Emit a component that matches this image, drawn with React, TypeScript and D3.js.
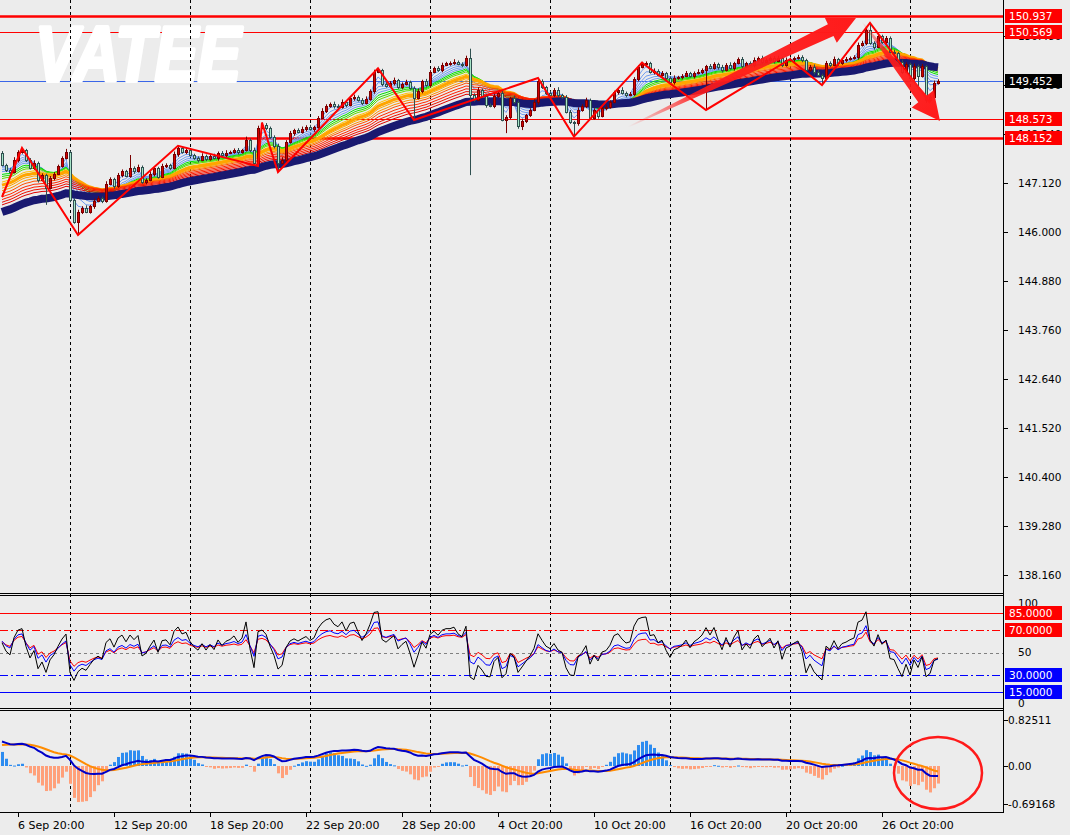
import React from 'react';
import * as d3 from 'd3';

// ---------------- DATA ----------------
const firstOpen = 147.81;
const closes = [
  147.53, 147.42, 147.37, 147.65, 147.83, 147.87, 147.65, 147.46, 147.58, 147.19,
  147.30, 147.01, 147.23, 147.33, 147.51, 147.69, 147.83, 146.73, 146.23, 146.46,
  146.55, 146.46, 146.59, 146.71, 146.78, 146.71, 147.10, 147.21, 147.05, 147.30,
  147.39, 147.28, 147.46, 147.39, 147.49, 147.14, 147.19, 147.33, 147.46, 147.26,
  147.51, 147.53, 147.46, 147.78, 147.92, 147.83, 147.87, 147.76, 147.69, 147.65,
  147.74, 147.67, 147.74, 147.69, 147.81, 147.76, 147.81, 147.83, 147.87, 147.83,
  147.87, 148.10, 147.87, 147.58, 148.38, 148.45, 148.38, 148.17, 147.97, 147.58,
  147.65, 148.06, 148.26, 148.33, 148.29, 148.35, 148.40, 148.35, 148.40, 148.61,
  148.77, 148.88, 148.93, 148.88, 148.86, 148.97, 148.90, 149.06, 149.09, 149.02,
  148.95, 149.04, 149.22, 149.66, 149.70, 149.38, 149.34, 149.41, 149.47, 149.31,
  149.38, 149.43, 149.29, 149.06, 149.22, 149.45, 149.36, 149.66, 149.75, 149.70,
  149.82, 149.86, 149.86, 149.89, 149.84, 149.82, 149.98, 149.13, 149.02, 149.25,
  149.11, 148.90, 148.88, 149.11, 149.18, 148.56, 148.63, 149.06, 148.97, 148.42,
  148.54, 148.67, 148.79, 148.97, 149.45, 149.31, 149.18, 149.13, 149.25, 149.13,
  149.09, 148.74, 148.51, 148.49, 148.79, 148.88, 149.02, 148.61, 148.79, 148.65,
  148.83, 148.86, 148.97, 149.20, 149.25, 149.18, 149.13, 149.15, 149.50, 149.77,
  149.84, 149.86, 149.66, 149.68, 149.59, 149.63, 149.52, 149.43, 149.52, 149.54,
  149.57, 149.63, 149.57, 149.63, 149.66, 149.70, 149.79, 149.75, 149.84, 149.77,
  149.70, 149.82, 149.75, 149.86, 149.95, 149.79, 149.86, 149.82, 149.93, 149.98,
  149.89, 149.93, 149.98, 149.91, 149.98, 149.82, 149.93, 149.95, 149.98, 150.00,
  149.93, 149.70, 149.77, 149.66, 149.59, 149.52, 149.86, 149.82, 149.95, 149.86,
  149.93, 149.95, 149.98, 150.00, 150.27, 150.32, 150.62, 150.32, 150.23, 150.48,
  150.34, 150.43, 150.11, 150.09, 149.89, 149.66, 149.84, 149.52, 149.79, 149.57,
  149.79, 149.02, 149.09, 149.40, 149.452,
];
// wick lengths in hundredths of a yen
const upperWick = [
  4, 3, 5, 6, 4, 5, 3, 4, 6, 3, 4, 3, 5, 4, 3, 4, 7, 3, 4, 5,
  4, 6, 3, 5, 4, 3, 6, 4, 3, 5, 4, 3, 30, 4, 5, 3, 4, 6, 4, 3,
  5, 4, 3, 6, 5, 3, 4, 5, 3, 4, 6, 3, 4, 5, 3, 4, 6, 3, 4, 5,
  3, 8, 4, 6, 5, 5, 4, 3, 4, 5, 6, 4, 5, 3, 4, 6, 4, 5, 3, 4,
  6, 4, 3, 5, 4, 6, 3, 4, 5, 3, 4, 6, 4, 5, 4, 3, 5, 4, 6, 3,
  4, 5, 3, 4, 6, 3, 5, 4, 3, 4, 5, 3, 4, 6, 3, 4, 5, 21, 4, 6,
  3, 5, 4, 6, 3, 5, 4, 3, 6, 4, 5, 3, 4, 6, 5, 4, 3, 5, 4, 6,
  3, 4, 5, 3, 6, 4, 5, 3, 4, 6, 3, 5, 4, 3, 4, 6, 3, 5, 4, 4,
  5, 4, 3, 6, 4, 5, 3, 4, 6, 3, 4, 5, 3, 4, 6, 4, 3, 5, 4, 3,
  5, 4, 6, 3, 4, 5, 3, 4, 6, 3, 5, 4, 3, 4, 5, 3, 6, 4, 3, 5,
  4, 3, 5, 6, 4, 3, 5, 4, 6, 3, 4, 5, 3, 4, 6, 5, 4, 16, 4, 5,
  3, 5, 4, 6, 3, 5, 4, 3, 6, 4, 5, 3, 4, 6, 4,
];
const lowerWick = [
  3, 5, 4, 3, 6, 4, 5, 3, 4, 6, 3, 39, 4, 5, 3, 4, 3, 5, 4, 27,
  5, 3, 4, 6, 3, 5, 4, 3, 6, 4, 5, 3, 4, 6, 3, 4, 5, 3, 6, 4,
  3, 5, 4, 3, 6, 4, 5, 3, 4, 6, 3, 5, 4, 3, 6, 4, 5, 3, 4, 6,
  4, 3, 5, 4, 7, 3, 5, 4, 6, 21, 3, 5, 4, 6, 3, 4, 5, 3, 6, 4,
  3, 5, 4, 6, 3, 4, 5, 3, 6, 4, 5, 3, 4, 6, 3, 5, 4, 3, 6, 4,
  5, 3, 4, 50, 3, 5, 4, 6, 3, 4, 5, 3, 6, 4, 3, 5, 4, 183, 5, 3,
  4, 6, 3, 5, 4, 3, 30, 5, 4, 6, 9, 5, 4, 3, 6, 4, 5, 3, 4, 6,
  5, 3, 4, 32, 6, 4, 5, 3, 4, 6, 3, 5, 4, 3, 6, 4, 5, 3, 4, 6,
  3, 5, 4, 6, 3, 4, 5, 3, 6, 4, 5, 3, 4, 6, 3, 5, 91, 3, 4, 6,
  5, 3, 4, 6, 3, 5, 4, 3, 6, 4, 5, 3, 4, 6, 3, 5, 4, 3, 6, 4,
  5, 3, 4, 6, 3, 16, 4, 5, 3, 6, 4, 5, 3, 4, 6, 3, 5, 4, 6, 3,
  4, 5, 3, 6, 4, 5, 3, 4, 6, 25, 4, 7, 5, 4, 3,
];
const zigzagBars = [0, 5, 19, 44, 64, 65, 69, 94, 103, 134, 143, 160, 176, 197, 205, 217, 232];
const zigzagPrices = [146.80, 147.92, 145.93, 147.97, 147.51, 148.50, 147.37, 149.74, 148.56, 149.52, 148.18, 149.87, 148.79, 149.95, 149.36, 150.78, 148.95];

const levelPrices = [150.937, 150.569, 149.452, 148.573, 148.152];
const priceTicks = [150.48, 149.36, 148.24, 147.12, 146.0, 144.88, 143.76, 142.64, 141.52, 140.4, 139.28, 138.16];
const gridBars = [17, 47, 77, 107, 137, 167, 197, 227];
const timeLabelBars = [4, 28, 52, 76, 100, 124, 148, 172, 196, 220];
const timeLabels = ['6 Sep 20:00', '12 Sep 20:00', '18 Sep 20:00', '22 Sep 20:00', '28 Sep 20:00', '4 Oct 20:00', '10 Oct 20:00', '16 Oct 20:00', '20 Oct 20:00', '26 Oct 20:00'];

const emaPeriods = [3, 5, 7, 9, 11, 13, 15, 17, 20, 23, 26, 29, 32, 36, 40, 44, 48, 60];
const emaSeeds = [147.55, 147.50, 147.45, 147.40, 147.35, 147.28, 147.23, 147.18, 147.10, 147.03, 146.96, 146.90, 146.83, 146.76, 146.70, 146.64, 146.58, 146.42];

const rsiPeriods = [7, 14, 21];
const rsiSeeds = [86, 73, 68];
const rsiLevels = [85, 70, 50, 30, 15];

const macdFast = 12, macdSlow = 26, macdSig = 9;
const macdSeeds = [147.25, 146.80, 0.36];
const macdLabels = [0.82511, 0, -0.69168];

// arrows: [startBar, startPrice, endBar, endPrice]
const arrowStartBars = [156.5, 215];
const arrowStartPrices = [148.40, 150.80];
const arrowEndBars = [213.5, 234.5];
const arrowEndPrices = [150.89, 148.54];

// ---------------- LAYOUT ----------------
const W = 1070, H = 835;
const PR = 1003; // plot right edge
const MAIN_B = 593;
const RSI_T = 596, RSI_B = 709;
const MACD_T = 711, MACD_B = 812;
const FONT = 'DejaVu Sans, Verdana, sans-serif';

const xs = d3.scaleLinear().domain([0, 234]).range([2, 938]);
const yP = d3.scaleLinear().domain([147.12, 138.16]).range([183, 575]);
const yR = d3.scaleLinear().domain([0, 100]).range([RSI_B, RSI_T]);
const yM = d3.scaleLinear().domain([0, 0.82511]).range([766, 720.1]);

function ema(vals: number[], period: number, seed: number) {
  const a = 2 / (period + 1);
  const out: number[] = [];
  let e = seed;
  vals.forEach((v) => { e = e + a * (v - e); out.push(e); });
  return out;
}

function rsi(vals: number[], period: number, seed: number, open0: number) {
  let ag = 0.1 * seed / 100, al = 0.1 * (1 - seed / 100);
  const out: number[] = [];
  let prev = open0;
  vals.forEach((v) => {
    const ch = v - prev; prev = v;
    ag = (ag * (period - 1) + Math.max(ch, 0)) / period;
    al = (al * (period - 1) + Math.max(-ch, 0)) / period;
    out.push(al === 0 ? 100 : 100 - 100 / (1 + ag / al));
  });
  return out;
}

const bars = closes.map((c, i) => {
  const o = i === 0 ? firstOpen : closes[i - 1];
  return { i, o, c, h: Math.max(o, c) + upperWick[i] / 100, l: Math.min(o, c) - lowerWick[i] / 100 };
});

const emas = emaPeriods.map((p, k) => ema(closes, p, emaSeeds[k]));
const emaColors = ['#6f9cf0', '#6f9cf0', '#6f9cf0', '#6f9cf0', '#6f9cf0', '#00e000', '#22dd00', '#66dd00', '#ffc400', '#ffa500', '#ffa500', '#ff9000', '#ff5000', '#ff2a00', '#ff1a00', '#ee1000', '#dd0000', '#191970'];
const emaWidths = [1, 1, 1, 1, 1, 1, 1, 1, 1, 3, 1, 1, 1, 1, 1, 1, 1, 8];

const rsis = rsiPeriods.map((p, k) => rsi(closes, p, rsiSeeds[k], firstOpen));
const e12 = ema(closes, macdFast, macdSeeds[0]);
const e26 = ema(closes, macdSlow, macdSeeds[1]);
const macd = e12.map((v, i) => v - e26[i]);
const signal = ema(macd, macdSig, macdSeeds[2]);
const hist = macd.map((v, i) => (v - signal[i]) * 4);

const lineGen = (ys: (v: number) => number) =>
  d3.line<number>().x((_, i) => xs(i)).y((v) => ys(v));

function arrowPath(x0: number, y0: number, x1: number, y1: number, headLen: number, headHalf: number, shaftHalf: number) {
  const dx = x1 - x0, dy = y1 - y0;
  const len = Math.hypot(dx, dy);
  const ux = dx / len, uy = dy / len;
  const nx = -uy, ny = ux;
  const bx = x1 - ux * headLen, by = y1 - uy * headLen;
  const pts = [
    [x0 + nx * 0.5, y0 + ny * 0.5],
    [bx + nx * shaftHalf, by + ny * shaftHalf],
    [bx + nx * headHalf, by + ny * headHalf],
    [x1, y1],
    [bx - nx * headHalf, by - ny * headHalf],
    [bx - nx * shaftHalf, by - ny * shaftHalf],
    [x0 - nx * 0.5, y0 - ny * 0.5],
  ];
  return 'M' + pts.map((p) => p[0].toFixed(1) + ',' + p[1].toFixed(1)).join('L') + 'Z';
}

const fmt3 = d3.format('.3f');

export default function App() {
  const levelFill = ['#ff0000', '#ff0000', '#000000', '#ff0000', '#ff0000'];
  const levelColor = ['#ff0000', '#ff0000', '#3a66e8', '#ff0000', '#ff0000'];
  const levelWidth = [2.5, 1, 1, 1, 2.5];
  return (
    <div>
      <style>{`body{margin:0;background:#ececec}`}</style>
      <svg width={W} height={H} style={{ display: 'block', fontFamily: FONT }}>
        <defs>
          <clipPath id="cMain"><rect x={0} y={0} width={PR} height={MAIN_B} /></clipPath>
          <clipPath id="cRsi"><rect x={0} y={RSI_T} width={PR} height={RSI_B - RSI_T} /></clipPath>
          <clipPath id="cMacd"><rect x={0} y={MACD_T} width={PR} height={MACD_B - MACD_T} /></clipPath>
          {arrowStartBars.map((b, k) => (
            <linearGradient key={k} id={'ag' + k} gradientUnits="userSpaceOnUse"
              x1={xs(b)} y1={yP(arrowStartPrices[k])} x2={xs(arrowEndBars[k])} y2={yP(arrowEndPrices[k])}>
              <stop offset="0" stopColor="#ff1a1a" stopOpacity={0} />
              <stop offset="0.3" stopColor="#ff1a1a" stopOpacity={0.9} />
              <stop offset="1" stopColor="#ff1a1a" stopOpacity={1} />
            </linearGradient>
          ))}
        </defs>
        <rect x={0} y={0} width={W} height={H} fill="#ececec" />

        {/* ---------- MAIN PANEL ---------- */}
        <g clipPath="url(#cMain)">
          {levelPrices.map((p, k) => (
            <line key={k} x1={0} x2={PR} y1={Math.round(yP(p)) + 0.5} y2={Math.round(yP(p)) + 0.5}
              stroke={levelColor[k]} strokeWidth={levelWidth[k]} />
          ))}
          <text x={35} y={81} fontFamily="Liberation Sans, Arial, sans-serif" fontWeight={900} fontStyle="italic"
            fontSize={78} fill="#ffffff" stroke="#ffffff" strokeWidth={4} strokeLinejoin="round"
            textLength={206} lengthAdjust="spacingAndGlyphs">VATEE</text>
        </g>

        {/* grid */}
        {gridBars.map((b, k) => (
          <line key={k} x1={Math.round(xs(b)) + 0.5} x2={Math.round(xs(b)) + 0.5} y1={0} y2={MACD_B}
            stroke="#000" strokeWidth={1} strokeDasharray="3,3" />
        ))}

        <g clipPath="url(#cMain)">
          {emas.map((e, k) => (
            <path key={k} d={lineGen(yP)(e) || ''} fill="none" stroke={emaColors[k]} strokeWidth={emaWidths[k]} />
          ))}
          {bars.map((b) => {
            const x = Math.round(xs(b.i));
            const bull = b.c >= b.o;
            const top = Math.round(yP(Math.max(b.o, b.c)));
            const bot = Math.round(yP(Math.min(b.o, b.c)));
            const col = bull ? '#7a0000' : '#2f4f4f';
            return (
              <g key={b.i}>
                <line x1={x + 0.5} x2={x + 0.5} y1={yP(b.h)} y2={yP(b.l)} stroke={col} strokeWidth={1} />
                <rect x={x - 0.5} y={top + 0.5} width={2} height={Math.max(bot - top, 1)}
                  fill={bull ? '#d40000' : '#a8e6c8'} stroke={col} strokeWidth={1} />
              </g>
            );
          })}
          <path d={d3.line<number>().x((b) => xs(b)).y((_, k) => yP(zigzagPrices[k]))(zigzagBars) || ''}
            fill="none" stroke="#ff0000" strokeWidth={2} />
          {arrowStartBars.map((b, k) => (
            <path key={k} d={arrowPath(xs(b), yP(arrowStartPrices[k]), xs(arrowEndBars[k]), yP(arrowEndPrices[k]), 28, 14, k === 0 ? 6.5 : 5.5)}
              fill={`url(#ag${k})`} />
          ))}
        </g>

        {/* ---------- RSI PANEL ---------- */}
        <g clipPath="url(#cRsi)">
          {rsiLevels.map((lv, k) => (
            <line key={k} x1={0} x2={PR} y1={Math.round(yR(lv)) + 0.5} y2={Math.round(yR(lv)) + 0.5}
              stroke={lv > 50 ? '#ff0000' : lv < 50 ? '#0000ff' : '#808080'} strokeWidth={1}
              strokeDasharray={lv === 70 || lv === 30 ? '8,3,2,3' : lv === 50 ? '3,3' : undefined} />
          ))}
          {[2, 1, 0].map((k) => (
            <path key={k} d={lineGen(yR)(rsis[k]) || ''} fill="none"
              stroke={['#000000', '#0000ff', '#ff0000'][k]} strokeWidth={1} />
          ))}
        </g>

        {/* ---------- MACD PANEL ---------- */}
        <g clipPath="url(#cMacd)">
          {hist.map((h, i) => (
            <rect key={i} x={Math.round(xs(i)) - 1} width={3}
              y={Math.min(yM(h), yM(0))} height={Math.max(Math.abs(yM(h) - yM(0)), 1)}
              fill={h >= 0 ? '#2d8cf0' : '#ffa07a'} />
          ))}
          <path d={lineGen(yM)(signal) || ''} fill="none" stroke="#ff8c00" strokeWidth={2} />
          <path d={lineGen(yM)(macd) || ''} fill="none" stroke="#0000c8" strokeWidth={2} />
        </g>

        {/* ---------- borders ---------- */}
        <g stroke="#000" strokeWidth={1} fill="none">
          <line x1={0} x2={PR + 1} y1={MAIN_B + 0.5} y2={MAIN_B + 0.5} />
          <line x1={0} x2={PR + 1} y1={RSI_T - 0.5} y2={RSI_T - 0.5} />
          <line x1={0} x2={PR + 1} y1={RSI_B - 0.5} y2={RSI_B - 0.5} />
          <line x1={0} x2={PR + 1} y1={MACD_T - 0.5} y2={MACD_T - 0.5} />
          <line x1={0} x2={PR + 1} y1={MACD_B + 0.5} y2={MACD_B + 0.5} />
          <line x1={PR + 0.5} x2={PR + 0.5} y1={0} y2={MACD_B + 1} />
        </g>

        {/* ---------- price axis ---------- */}
        {priceTicks.map((p, k) => (
          <g key={k}>
            <line x1={PR} x2={PR + 5} y1={Math.round(yP(p)) + 0.5} y2={Math.round(yP(p)) + 0.5} stroke="#000" />
            <text x={1018} y={yP(p)} dy="0.35em" fontSize={10.5} fill="#000">{fmt3(p)}</text>
          </g>
        ))}
        {levelPrices.map((p, k) => (
          <g key={k}>
            <rect x={1005} y={Math.round(yP(p)) - 7} width={57} height={14} fill={levelFill[k]} />
            <text x={1009} y={yP(p)} dy="0.36em" fontSize={10.5} fill="#fff">{fmt3(p)}</text>
          </g>
        ))}

        {/* ---------- rsi axis ---------- */}
        <text x={1018} y={603} dy="0.35em" fontSize={10.5}>100</text>
        <text x={1018} y={yR(50)} dy="0.35em" fontSize={10.5}>50</text>
        <text x={1018} y={703} dy="0.35em" fontSize={10.5}>0</text>
        {rsiLevels.filter((lv) => lv !== 50).map((lv, k) => (
          <g key={k}>
            <rect x={1005} y={Math.round(yR(lv)) - 7} width={57} height={14} fill={lv > 50 ? '#ff0000' : '#0000ff'} />
            <text x={1009} y={yR(lv)} dy="0.36em" fontSize={10.5} fill="#fff">{lv.toFixed(4)}</text>
          </g>
        ))}

        {/* ---------- macd axis ---------- */}
        {macdLabels.map((v, k) => (
          <g key={k}>
            <line x1={PR} x2={PR + 5} y1={Math.round(yM(v)) + 0.5} y2={Math.round(yM(v)) + 0.5} stroke="#000" />
            <text x={1008} y={yM(v)} dy="0.35em" fontSize={10.5}>{v === 0 ? '0.00' : v.toFixed(5)}</text>
          </g>
        ))}

        {/* red ellipse */}
        <ellipse cx={938} cy={773} rx={44} ry={36} fill="none" stroke="#ff1a1a" strokeWidth={2.5} />

        {/* ---------- time axis ---------- */}
        {timeLabelBars.map((b, k) => (
          <g key={k}>
            <line x1={Math.round(xs(b)) + 0.5} x2={Math.round(xs(b)) + 0.5} y1={MACD_B} y2={MACD_B + 5} stroke="#000" />
            <text x={Math.round(xs(b))} y={829} fontSize={11}>{timeLabels[k]}</text>
          </g>
        ))}
      </svg>
    </div>
  );
}
